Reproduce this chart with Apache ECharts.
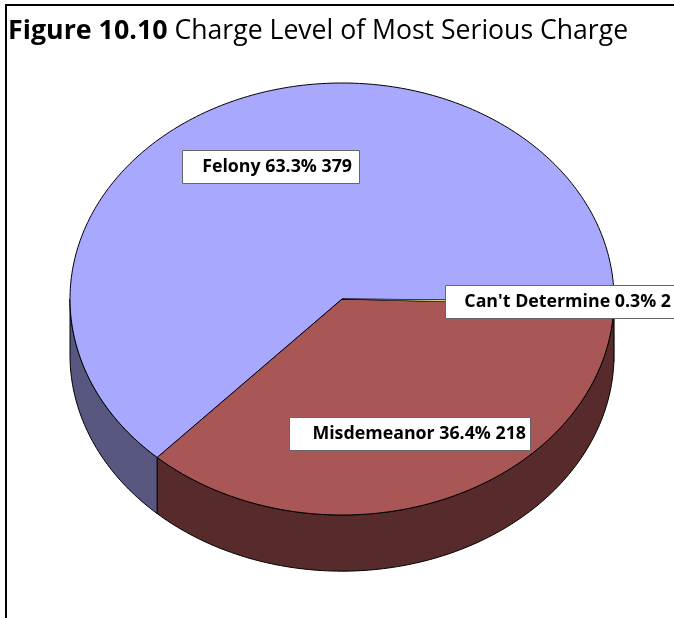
<!DOCTYPE html>
<html lang="en">
<head>
    <meta charset="UTF-8">
    <title>Figure 10.10</title>
    <style>
        *{
            padding:0;
            margin:0;
        }
        body{
            background:#fff;
        }
    </style>
    <script src="https://cdn.jsdelivr.net/npm/echarts@6/dist/echarts.min.js"></script>
</head>
<body>
    <div id="main" style="width: 674px;height: 618px;"></div>
    <script>
        // values in drawing order, clockwise from 3 o'clock
        var categories = ["Can't Determine", 'Misdemeanor', 'Felony'];
        var counts = [2, 218, 379];
        var percents = ['0.3', '36.4', '63.3'];
        var topColors = ['#FFFF99', '#A85656', '#A8A8FF'];
        var sideColors = ['#80804D', '#572B2B', '#575780'];

        var total = counts.reduce(function (a, b) { return a + b; }, 0);
        var depth = 0.26; // thickness of the disc, in y axis units
        var firstAngle = 0.6; // the first slice starts just under 3 o'clock
        var labelFont = '"Open Sans"';

        function labelText(i) {
            return categories[i] + ' ' + percents[i] + '% ' + counts[i];
        }

        // point on the ellipse, angle in degrees clockwise from east
        function rim(api, deg, drop) {
            var a = deg * Math.PI / 180;
            return api.coord([Math.cos(a), -Math.sin(a) - (drop || 0)]);
        }

        function arc(api, from, to, drop) {
            var pts = [];
            var n = Math.max(2, Math.ceil(Math.abs(to - from)));
            for (var i = 0; i <= n; i++) {
                pts.push(rim(api, from + (to - from) * i / n, drop));
            }
            return pts;
        }

        function renderSlice(params, api) {
            var i = params.dataIndex;
            var before = 0;
            for (var k = 0; k < i; k++) before += counts[k];
            var start = firstAngle + before / total * 360;
            var end = firstAngle + (before + api.value(1)) / total * 360;
            // the thin slice needs a fine outline or the yellow disappears
            var line = { stroke: '#000', lineWidth: i === 0 ? 0.5 : 1, lineJoin: 'round' };
            var children = [];

            // wall of the disc, only the part facing the viewer
            var wallEnd = Math.min(end, 180);
            if (start < 180) {
                var upper = arc(api, start, wallEnd, 0);
                var lower = arc(api, wallEnd, start, depth);
                children.push({
                    type: 'polygon',
                    shape: { points: upper.concat(lower) },
                    style: Object.assign({ fill: sideColors[i] }, line)
                });
            }

            // top of the slice
            var top = [api.coord([0, 0])].concat(arc(api, start, end, 0));
            children.push({
                type: 'polygon',
                shape: { points: top },
                style: Object.assign({ fill: topColors[i] }, line),
                z2: i === 0 ? 8 : 5
            });
            return { type: 'group', children: children };
        }

        function labelBox(i, left, top, width, textRight) {
            return {
                type: 'group',
                children: [
                    {
                        type: 'rect',
                        z: 20,
                        shape: { x: left + 0.5, y: top + 0.5, width: width, height: 33 },
                        style: { fill: '#fff', stroke: '#666', lineWidth: 1 }
                    },
                    {
                        type: 'text',
                        z: 21,
                        x: textRight,
                        y: top + 17,
                        style: {
                            text: labelText(i),
                            align: 'right',
                            verticalAlign: 'middle',
                            font: 'bold 17.8px ' + labelFont,
                            fill: '#000'
                        }
                    }
                ]
            };
        }

        var myChart = echarts.init(document.getElementById('main'));
        var option = {
            animation: false,
            backgroundColor: '#fff',
            title: {
                left: 8,
                top: 18,
                padding: 0,
                text: '{b|Figure 10.10} {r|Charge Level of Most Serious Charge}',
                textStyle: {
                    rich: {
                        b: { fontFamily: 'Open Sans', fontWeight: 'bold', fontSize: 26.8, color: '#000' },
                        r: { fontFamily: 'Open Sans', fontWeight: 'normal', fontSize: 26.6, color: '#000', padding: [0, 0, 0, 2] }
                    }
                }
            },
            grid: { left: 70, width: 544, top: 83, height: 432 },
            xAxis: { type: 'value', min: -1, max: 1, show: false },
            yAxis: { type: 'value', min: -1, max: 1, show: false },
            series: [{
                type: 'custom',
                coordinateSystem: 'cartesian2d',
                clip: false,
                data: counts.map(function (c, i) { return [i, c]; }),
                encode: { x: 0, y: 1 },
                renderItem: renderSlice,
                silent: true
            }],
            graphic: [
                // page frame
                { type: 'rect', z: 30, shape: { x: 5, y: 4, width: 669, height: 2 }, style: { fill: '#000' } },
                { type: 'rect', z: 30, shape: { x: 5, y: 4, width: 2, height: 614 }, style: { fill: '#000' } },
                labelBox(2, 182, 150, 177, 352),
                labelBox(1, 289, 417, 241, 526),
                labelBox(0, 445, 285, 240, 671)
            ]
        };
        myChart.setOption(option);
    </script>
</body>
</html>
